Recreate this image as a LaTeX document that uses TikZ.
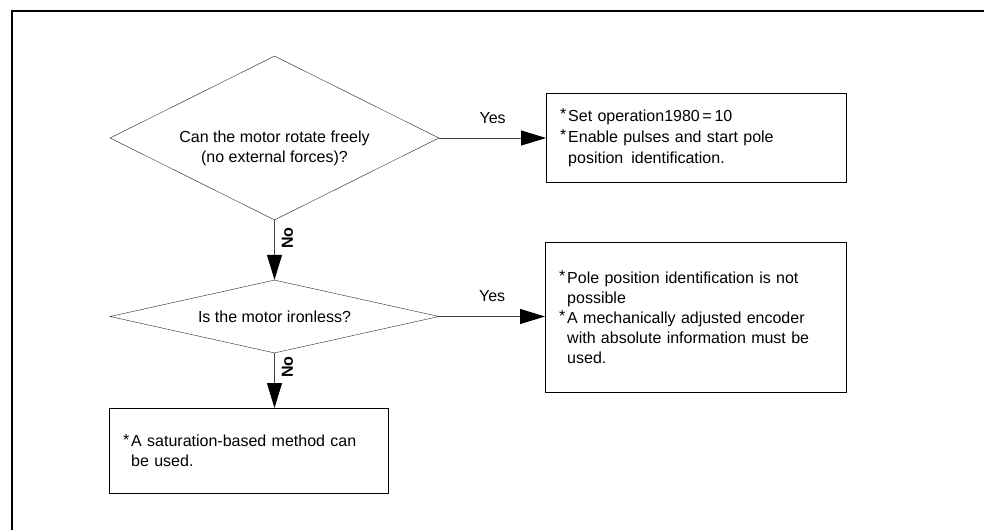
\documentclass[tikz,border=0pt]{standalone}
\usepackage{fontspec}
\setmainfont{Liberation Sans}
\usetikzlibrary{arrows.meta, positioning, shapes.geometric}

\newcommand{\itemstar}{\makebox[8pt][l]{\raisebox{1.5pt}{*}}}
\newcommand{\itemcont}{\hspace*{8pt}}

\begin{document}
\begin{tikzpicture}[
    x=1pt, y=-1pt,
    every node/.style={font=\fontsize{16}{20}\selectfont},
    decision/.style={
        draw=black!85,
        diamond,
        inner sep=0pt,
        minimum width=329pt
    },
    result/.style={
        draw,
        rectangle,
        anchor=north west,
        inner xsep=14pt,
        inner ysep=0pt,
        align=left
    },
    nolabel/.style={rotate=90, font=\fontsize{16}{20}\selectfont\bfseries},
    arrow/.style={-{Triangle[length=25pt,width=15pt,color=black]}, draw=black!75, line width=1pt}
]
\useasboundingbox (0,0) rectangle (984,530);
\draw[line width=2pt] (11.5,530) -- (11.5,10.5) -- (984,10.5);

% questions
\node[decision, minimum height=164pt, shape aspect=2] (canrotate) at (274.5,138) {};
\node[align=center] (canrotatetext) at (274.5,148) {Can the motor rotate freely\\(no external forces)?};
\node[decision, minimum height=73pt, shape aspect=4.5] (ironless) at (274.5,316.5) {Is the motor ironless?};

% results
\node[result, minimum width=300pt, minimum height=89pt, text width=272pt] (setop) at (546,93)
    {\itemstar Set operation1980\,=\,10\\[1pt]
     \itemstar Enable pulses and start pole\\[1pt]
     \itemcont position\, identification.};
\node[result, minimum width=301pt, minimum height=150pt, text width=273pt] (notpossible) at (545,242)
    {\itemstar Pole position identification is not\\
     \itemcont possible\\
     \itemstar A mechanically adjusted encoder\\
     \itemcont with absolute information must be\\
     \itemcont used.};
\node[result, minimum width=279pt, minimum height=85pt, text width=251pt] (saturation) at (109,408)
    {\itemstar A saturation-based method can\\
     \itemcont be used.};

% connectors
\draw[arrow] (canrotate.east) -- (canrotate.east -| setop.west)
    node[midway, above=11pt] (yes1) {Yes};
\draw[arrow] (ironless.east) -- (ironless.east -| notpossible.west)
    node[midway, above=11pt] (yes2) {Yes};
\draw[arrow] (canrotate.south) -- (ironless.north);
\draw[arrow] (ironless.south) -- (ironless.south |- saturation.north);

\node[nolabel] (no1) at ([xshift=13pt, yshift=-18pt]canrotate.south) {No};
\node[nolabel] (no2) at ([xshift=13pt, yshift=-14pt]ironless.south) {No};
\end{tikzpicture}
\end{document}
